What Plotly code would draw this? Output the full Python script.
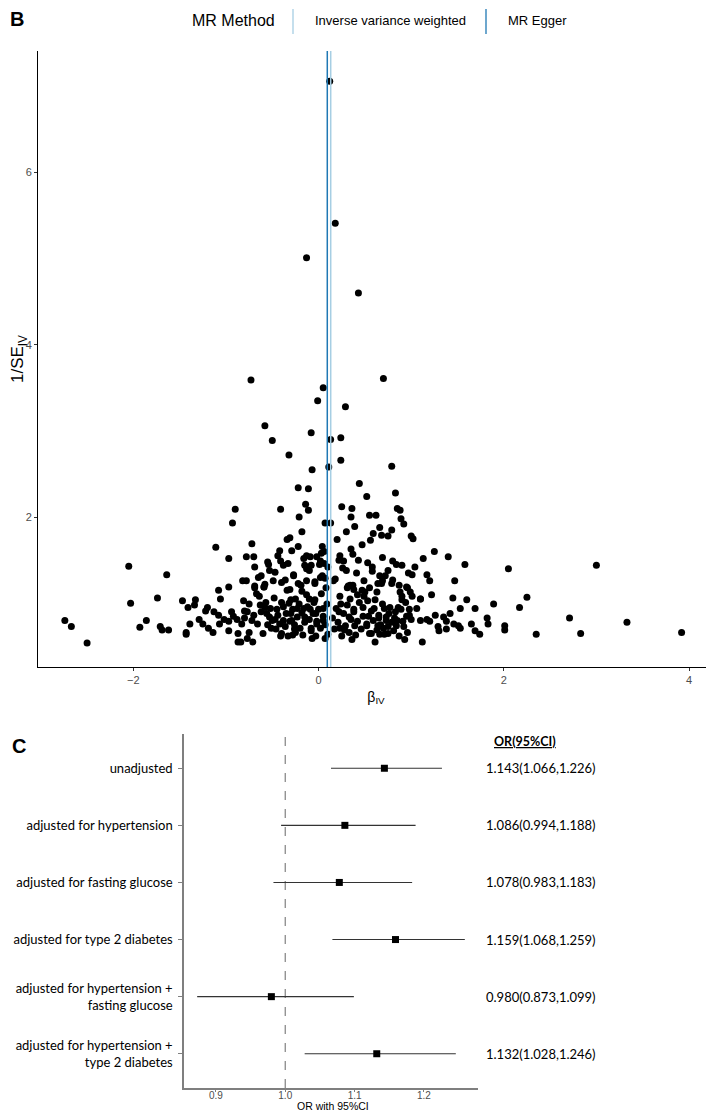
import plotly.graph_objects as go

# ---------------- Panel B data: funnel plot ----------------
beta_iv = [
    # top / upper
    0.12, 0.18, -0.13, 0.43, 0.70, -0.73, 0.05, -0.01, 0.29, -0.58, -0.50, -0.08, 0.13, 0.24,
    -0.32, 0.24, 0.11, 0.79, -0.07, -0.22, -0.11, 0.44, 0.52, 0.83, -0.14, -0.11, -0.41, -0.90,
    0.25, 0.36, 0.85, 0.88,
    # 2.0 band
    -0.93, -0.21, 0.35, 0.39, 0.55, 0.62, 0.89, 0.92, 0.07, 0.13,
    # 1.6 - 1.9 band
    -0.18, 0.30, 0.59, 0.66, 0.79, 0.68, 0.75, 1.00, 1.02, 0.20, 0.56, 0.47, 0.35, -0.34, -0.31,
    -0.22, 0.04, 0.06, -0.72, -1.11, -0.42, -0.29, 3.00,
    # right of lines, upper cloud
    0.23, 0.27, 0.30, 0.43, 0.58, 0.80, 0.75, 0.90, 1.01, 1.04, 0.66, 0.69, 0.79, 0.16, 0.34,
    0.38, 0.47, 0.95, 0.90, 0.99,
    # left of lines, upper cloud
    -0.78, -0.70, -0.13, -0.41, -0.38, -0.54, -0.69, -0.53, -0.15, -0.27, -0.82, -0.78, -0.62,
    -0.69, -0.59, -0.49, -0.40, -0.31, -0.22, -0.09, -0.02, 0.03, -0.13, -0.08, 0.02, 0.06,
    0.10, -0.13, -0.04, 0.02, 0.07,
    # left wing
    -1.08, -0.97, -1.06, -1.47, -1.41, -1.33, -1.34, -1.20, -1.22, -1.13, -1.08, -1.29, -1.25,
    -1.39, -1.19, -1.43, -1.43, -1.71, -1.69, -1.62, -1.02, -0.97, -0.94, -0.92, -0.88, -1.07,
    -0.97, -0.87, -0.87, -1.14, -1.74, -1.64, -0.97,
    # right wing
    1.25, 1.13, 1.40, 1.58, 1.17, 1.20, 1.47, 2.05, 1.22, 1.45, 1.60, 1.10, 1.53, 1.69, 1.89,
    1.10, 1.17, 1.20, 1.26, 1.35, 1.42, 1.38, 1.46, 1.51, 1.29, 1.30, 1.38, 1.53, 1.65, 1.69,
    1.74, 1.82, 1.83, 2.01, 2.01, 1.12,
    # far right / far left
    2.17, 2.25, 2.35, 2.71, 2.83, 3.33, 3.92,
    -2.74, -2.67, -2.50, -2.05, -2.03, -1.93, -1.86,
    # cloud, left of lines
    -0.81, -0.75, -0.77, -0.80, -0.83, -0.84, -0.77, -0.71, -0.72, -0.69, -0.67, -0.64, -0.63,
    -0.59, -0.58, -0.56, -0.53, -0.51, -0.47, -0.45, -0.40, -0.41, -0.38, -0.34, -0.32, -0.30,
    -0.29, -0.28, -0.26, -0.25, -0.23, -0.18, -0.16, -0.15, -0.10, -0.09, -0.08, -0.07, -0.04,
    -0.03, -0.02, 0.05, 0.05, 0.07, 0.08,
    # cloud, right of lines
    0.22, 0.23, 0.24, 0.28, 0.31, 0.33, 0.34, 0.36, 0.37, 0.38, 0.39, 0.42, 0.48, 0.49, 0.52,
    0.53, 0.54, 0.55, 0.57, 0.60, 0.61, 0.63, 0.64, 0.65, 0.66, 0.68, 0.70, 0.71, 0.73, 0.75,
    0.76, 0.82, 0.84, 0.86, 0.88, 0.90, 0.91, 0.93, 0.95, 0.96, 0.98, 1.00, 1.01, 1.06, 1.10,
    # cloud, further estimates
    -0.80, -0.75, -0.70, -0.66, -0.62, -0.60, -0.57, -0.55, -0.52, -0.50, -0.48, -0.46, -0.44,
    -0.42, -0.40, -0.38, -0.36, -0.35, -0.33, -0.31, -0.30, -0.28, -0.26, -0.25, -0.23, -0.21,
    -0.20, -0.18, -0.17, -0.15, -0.13, -0.12, -0.10, -0.08, -0.06, -0.05, -0.03, -0.02, 0.00,
    0.02, 0.03, 0.05, 0.07, 0.09, 0.10,
    0.15, 0.17, 0.19, 0.21, 0.23, 0.25, 0.27, 0.29, 0.31, 0.33, 0.35, 0.38, 0.40, 0.42, 0.44,
    0.46, 0.48, 0.50, 0.52, 0.55, 0.57, 0.59, 0.61, 0.63, 0.65, 0.67, 0.69, 0.71, 0.73, 0.75,
    0.77, 0.79, 0.81, 0.83, 0.85, 0.87, 0.89, 0.92, 0.94, 0.96, 0.98,
    # middle band of the cloud
    -0.65, -0.58, -0.47, -0.36, -0.27, -0.19, -0.10, -0.04, 0.01, 0.04, 0.18, 0.26, 0.32, 0.41,
    0.49, 0.58, 0.64, 0.72, 0.80, 0.87, -0.55, -0.44, -0.33, -0.16, 0.22, 0.37, 0.53, 0.69,
    0.84, 0.97,
]
inv_se = [
    # top / upper
    7.06, 5.41, 5.01, 4.60, 3.61, 3.59, 3.50, 3.35, 3.28, 3.06, 2.89, 2.98, 2.90, 2.92,
    2.72, 2.66, 2.58, 2.59, 2.55, 2.34, 2.33, 2.39, 2.24, 2.28, 2.15, 2.08, 2.09, 2.09,
    2.12, 2.10, 2.10, 2.08,
    # 2.0 band
    1.93, 2.00, 2.00, 1.89, 2.02, 2.02, 1.98, 1.92, 1.93, 1.93,
    # 1.6 - 1.9 band
    1.83, 1.83, 1.81, 1.88, 1.85, 1.79, 1.78, 1.78, 1.75, 1.74, 1.73, 1.68, 1.63, 1.74, 1.76,
    1.66, 1.66, 1.60, 1.69, 1.65, 1.61, 1.61, 1.44,
    # right of lines, upper cloud
    1.55, 1.49, 1.38, 1.50, 1.42, 1.49, 1.38, 1.44, 1.33, 1.42, 1.32, 1.26, 1.23, 1.26, 1.21,
    1.16, 1.15, 1.19, 1.08, 1.13,
    # left of lines, upper cloud
    1.54, 1.54, 1.55, 1.49, 1.44, 1.45, 1.42, 1.38, 1.44, 1.32, 1.26, 1.26, 1.32,
    1.20, 1.19, 1.26, 1.24, 1.16, 1.23, 1.54, 1.54, 1.58, 1.40, 1.44, 1.49, 1.46,
    1.42, 1.26, 1.23, 1.30, 1.29,
    # left wing
    1.15, 1.19, 1.05, 1.03, 0.95, 1.04, 0.98, 0.95, 0.91, 0.90, 0.86, 0.81, 0.76,
    0.76, 0.71, 0.66, 0.64, 0.73, 0.69, 0.69, 0.81, 0.79, 0.90, 0.85, 0.81, 0.76,
    0.68, 0.65, 0.55, 0.66, 1.06, 1.33, 1.52,
    # right wing
    1.60, 1.52, 1.54, 1.45, 1.33, 1.26, 1.26, 1.40, 1.10, 1.06, 1.04, 1.05, 0.94, 0.94, 0.99,
    0.80, 0.81, 0.79, 0.86, 0.84, 0.88, 0.79, 0.76, 0.74, 0.73, 0.68, 0.70, 0.71, 0.76, 0.68,
    0.64, 0.83, 0.76, 0.74, 0.69, 0.55,
    # far right / far left
    0.95, 1.07, 0.64, 0.83, 0.65, 0.78, 0.66,
    0.80, 0.73, 0.54, 1.43, 1.00, 0.72, 0.80,
    # cloud, left of lines
    1.03, 0.99, 0.90, 0.83, 0.76, 0.55, 0.59, 0.55, 0.80, 1.18, 1.11, 1.08, 0.98,
    1.19, 0.95, 0.88, 0.84, 0.71, 0.81, 0.93, 1.01, 0.62, 0.80, 1.15, 1.00, 0.88,
    0.80, 0.63, 0.70, 1.05, 0.94, 1.14, 0.94, 0.84, 1.05, 0.93, 0.71, 0.59, 1.04,
    0.88, 0.76, 0.94, 0.80, 0.59, 1.18,
    # cloud, right of lines
    0.90, 0.71, 0.99, 0.69, 1.18, 0.84, 1.05, 0.58, 1.21, 0.90, 0.74, 1.10, 0.95, 1.08, 0.74,
    1.03, 0.85, 1.18, 0.65, 0.94, 0.55, 1.13, 0.74, 0.83, 0.64, 1.23, 0.71, 0.94, 0.80, 0.65,
    0.88, 0.83, 0.74, 0.95, 1.13, 1.04, 0.79, 0.58, 0.85, 1.18, 0.93, 0.81, 1.08, 0.94, 1.05,
    # cloud, further estimates
    0.91, 0.66, 0.86, 0.76, 0.90, 0.65, 1.01, 0.75, 0.94, 0.80, 1.06, 0.70, 0.86,
    0.76, 0.65, 0.96, 0.73, 0.88, 0.62, 0.79, 1.04, 0.93, 0.75, 0.66, 0.84, 0.99,
    0.71, 0.89, 0.63, 0.78, 1.10, 0.96, 0.81, 0.68, 0.88, 1.01, 0.62, 0.79, 0.93,
    0.71, 1.11, 0.85, 0.75, 0.99, 0.64,
    0.83, 0.70, 0.94, 0.78, 1.08, 0.62, 0.88, 0.74, 0.98, 0.66, 0.81, 0.93, 0.63, 0.79, 1.01,
    0.70, 0.85, 1.13, 0.76, 0.65, 0.91, 0.80, 1.04, 0.69, 0.86, 0.75, 0.99, 0.64, 0.84, 0.73,
    0.95, 0.78, 0.68, 0.90, 0.80, 0.62, 0.93, 0.73, 1.01, 0.66, 0.86,
    # middle band of the cloud
    1.30, 1.22, 1.36, 1.27, 1.33, 1.21, 1.38, 1.25, 1.45, 1.32, 1.28, 1.41, 1.20, 1.35,
    1.26, 1.37, 1.23, 1.32, 1.27, 1.21, 1.48, 1.55, 1.46, 1.52, 1.50, 1.57, 1.47, 1.53,
    1.45, 1.35,
]
ivw_b = 0.131
egger_b = 0.094
method_names = ["Inverse variance weighted", "MR Egger"]
method_colors = ["#A6CEE3", "#1F78B4"]

# ---------------- Panel C data: forest plot ----------------
row_labels = [
    "unadjusted",
    "adjusted for hypertension",
    "adjusted for fasting glucose",
    "adjusted for type 2 diabetes",
    "adjusted for hypertension +<br>fasting glucose",
    "adjusted for hypertension +<br>type 2 diabetes",
]
or_est = [1.143, 1.086, 1.078, 1.159, 0.980, 1.132]
or_lo = [1.066, 0.994, 0.983, 1.068, 0.873, 1.028]
or_hi = [1.226, 1.188, 1.183, 1.259, 1.099, 1.246]

W, H = 714, 1111


def px(x):
    return x / W


def py(y):
    return 1 - y / H


n = len(row_labels)
row_pos = [n - i for i in range(n)]

fig = go.Figure()

fig.add_trace(go.Scatter(
    x=beta_iv, y=inv_se, mode="markers",
    marker=dict(color="black", size=7, line=dict(width=0)),
    xaxis="x", yaxis="y", hoverinfo="skip",
))

fig.add_trace(go.Scatter(
    x=or_est, y=row_pos, mode="markers",
    marker=dict(color="black", size=7, symbol="square"),
    error_x=dict(type="data", symmetric=False,
                 array=[h - e for h, e in zip(or_hi, or_est)],
                 arrayminus=[e - l for e, l in zip(or_est, or_lo)],
                 color="#333333", thickness=1.1, width=0),
    xaxis="x2", yaxis="y2", hoverinfo="skip",
))

shapes = []
for b, c in zip([ivw_b, egger_b], method_colors):
    shapes.append(dict(type="line", xref="x", yref="y domain", x0=b, x1=b, y0=0, y1=1,
                       line=dict(color=c, width=1.5), layer="above"))
shapes.append(dict(type="line", xref="x2", yref="y2 domain", x0=1, x1=1, y0=0, y1=1,
                   line=dict(color="#808080", width=1.2, dash="dash"), layer="below"))
# legend keys
for xk, c in zip([285, 478], method_colors):
    shapes.append(dict(type="line", xref="paper", yref="paper", x0=px(xk), x1=px(xk),
                       y0=py(26), y1=py(1), line=dict(color=c, width=1.3)))

font_main = "Liberation Sans, Arial, sans-serif"
font_c = "Lato, Liberation Sans, sans-serif"

annotations = [
    dict(text="<b>B</b>", x=px(0), y=py(11), xref="paper", yref="paper", xanchor="left",
         yanchor="middle", showarrow=False, font=dict(family=font_main, size=20, color="black")),
    dict(text="<b>C</b>", x=px(2), y=py(738), xref="paper", yref="paper", xanchor="left",
         yanchor="middle", showarrow=False, font=dict(family=font_main, size=20, color="black")),
    dict(text="MR Method", x=px(225), y=py(12), xref="paper", yref="paper", xanchor="center",
         yanchor="middle", showarrow=False, font=dict(family=font_main, size=16, color="black")),
    dict(text=method_names[0], x=px(305), y=py(12), xref="paper", yref="paper", xanchor="left",
         yanchor="middle", showarrow=False, font=dict(family=font_main, size=13, color="black")),
    dict(text=method_names[1], x=px(498), y=py(12), xref="paper", yref="paper", xanchor="left",
         yanchor="middle", showarrow=False, font=dict(family=font_main, size=13, color="black")),
    dict(text="<b><u>OR(95%CI)</u></b>", x=px(484), y=py(733), xref="paper", yref="paper",
         xanchor="left", yanchor="middle", showarrow=False,
         font=dict(family=font_c, size=12.5, color="black")),
    dict(text="OR with 95%CI", x=px(325), y=py(1098), xref="paper", yref="paper",
         xanchor="center", yanchor="middle", showarrow=False, borderpad=0,
         font=dict(family=font_main, size=10.5, color="black")),
]
for e, l, h, yp in zip(or_est, or_lo, or_hi, row_pos):
    annotations.append(dict(text=f"{e:.3f}({l:.3f},{h:.3f})", x=px(476), y=yp, xref="paper",
                            yref="y2", xanchor="left", yanchor="middle", showarrow=False,
                            font=dict(family=font_c, size=13, color="black")))

fig.update_layout(
    width=W, height=H,
    margin=dict(l=0, r=0, t=0, b=0),
    paper_bgcolor="white", plot_bgcolor="white",
    showlegend=False,
    shapes=shapes, annotations=annotations,
    xaxis=dict(domain=[px(30), px(706)], range=[-3.03, 4.27], anchor="y",
               showline=True, linecolor="black", linewidth=1.1,
               ticks="outside", ticklen=3, tickcolor="#333333", tickwidth=1,
               tickvals=[-2, 0, 2, 4], ticktext=["\u22122", "0", "2", "4"],
               tickfont=dict(family=font_main, size=11, color="#4D4D4D"),
               showgrid=False, zeroline=False,
               title=dict(text="\u03b2<sub>IV</sub>", standoff=6,
                          font=dict(family=font_main, size=14, color="black"))),
    yaxis=dict(domain=[py(659), py(43)], range=[0.26, 7.41], anchor="x",
               showline=True, linecolor="black", linewidth=1.1,
               ticks="outside", ticklen=3, tickcolor="#333333", tickwidth=1,
               tickvals=[2, 4, 6],
               tickfont=dict(family=font_main, size=11, color="#4D4D4D"),
               showgrid=False, zeroline=False,
               title=dict(text="1/SE<sub>IV</sub>", standoff=6,
                          font=dict(family=font_main, size=17, color="black"))),
    xaxis2=dict(domain=[px(176), px(470)], range=[0.854, 1.278], anchor="y2",
                showline=True, linecolor="#7F7F7F", linewidth=1.5,
                ticks="outside", ticklen=2, tickcolor="#7F7F7F",
                ticklabelstandoff=-5,
                tickvals=[0.9, 1.0, 1.1, 1.2], ticktext=["0.9", "1.0", "1.1", "1.2"],
                tickfont=dict(family=font_main, size=10, color="#4D4D4D"),
                showgrid=False, zeroline=False),
    yaxis2=dict(domain=[py(1080), py(726)], range=[0.4, 6.6], anchor="x2",
                showline=True, linecolor="#7F7F7F", linewidth=1.5,
                ticks="outside", ticklen=4, tickcolor="#7F7F7F",
                ticklabelstandoff=3,
                tickvals=row_pos, ticktext=row_labels,
                tickfont=dict(family=font_c, size=13, color="black"),
                showgrid=False, zeroline=False),
)

fig.write_html("out.html")
